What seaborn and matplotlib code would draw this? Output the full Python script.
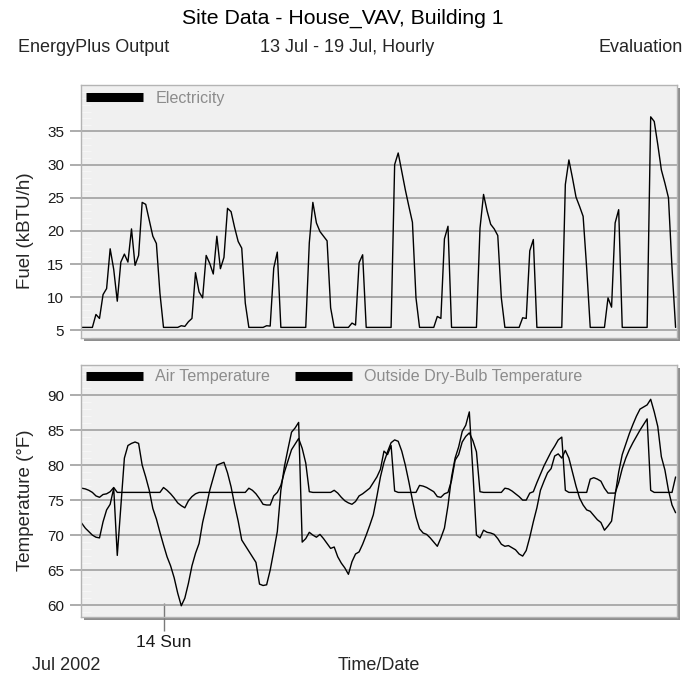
import numpy as np
import pandas as pd
import matplotlib
matplotlib.use("Agg")
import matplotlib.pyplot as plt
from matplotlib.lines import Line2D
from matplotlib.patches import Rectangle
from matplotlib.ticker import MultipleLocator, FixedLocator
import seaborn as sns

# ---- hourly data, 13 Jul 01:00 .. 19 Jul 24:00 (one row per day) ----
electricity = [
    5.45, 5.45, 5.45, 5.45, 7.4, 6.8, 10.4, 11.3, 17.3, 14.2, 9.4, 15.3, 16.5, 15.3, 20.3, 14.8, 16.3, 24.3, 24.0, 21.6, 19.2, 18.1, 10.6, 5.45,
    5.45, 5.45, 5.45, 5.45, 5.7, 5.6, 6.3, 6.8, 13.7, 10.8, 9.9, 16.3, 15.1, 13.5, 19.2, 14.3, 16.0, 23.4, 22.9, 20.5, 18.4, 17.4, 9.1, 5.45,
    5.45, 5.45, 5.45, 5.45, 5.7, 5.65, 14.4, 16.8, 5.45, 5.45, 5.45, 5.45, 5.45, 5.45, 5.45, 5.45, 18.2, 24.3, 21.2, 19.9, 19.2, 18.5, 8.4, 5.45,
    5.45, 5.45, 5.45, 5.45, 6.1, 5.8, 15.2, 16.4, 5.45, 5.45, 5.45, 5.45, 5.45, 5.45, 5.45, 5.45, 30.0, 31.75, 29.0, 26.2, 23.7, 21.3, 9.9, 5.45,
    5.45, 5.45, 5.45, 5.45, 7.1, 6.8, 18.8, 20.7, 5.45, 5.45, 5.45, 5.45, 5.45, 5.45, 5.45, 5.45, 20.4, 25.5, 23.0, 21.0, 20.3, 19.3, 9.9, 5.45,
    5.45, 5.45, 5.45, 5.45, 6.9, 6.8, 17.0, 18.7, 5.45, 5.45, 5.45, 5.45, 5.45, 5.45, 5.45, 5.45, 27.0, 30.7, 28.0, 25.1, 23.7, 22.2, 14.4, 5.45,
    5.45, 5.45, 5.45, 5.45, 9.9, 8.5, 21.2, 23.2, 5.45, 5.45, 5.45, 5.45, 5.45, 5.45, 5.45, 5.45, 37.2, 36.5, 33.0, 29.2, 27.2, 25.0, 14.4, 5.45,
]

air_temperature = [
    76.7, 76.6, 76.4, 76.1, 75.6, 75.4, 75.8, 75.9, 76.2, 76.8, 76.1, 76.1, 76.1, 76.1, 76.1, 76.1, 76.1, 76.1, 76.1, 76.1, 76.1, 76.1, 76.1, 76.8,
    76.4, 75.9, 75.3, 74.6, 74.2, 73.9, 74.9, 75.5, 75.9, 76.1, 76.1, 76.1, 76.1, 76.1, 76.1, 76.1, 76.1, 76.1, 76.1, 76.1, 76.1, 76.1, 76.1, 76.7,
    76.4, 75.9, 75.2, 74.4, 74.3, 74.3, 75.6, 76.1, 77.1, 79.0, 80.6, 82.2, 83.0, 83.8, 82.4, 80.3, 76.2, 76.1, 76.1, 76.1, 76.1, 76.1, 76.1, 76.4,
    76.0, 75.4, 74.9, 74.6, 74.4, 74.8, 75.6, 75.9, 76.3, 76.7, 77.5, 78.3, 79.4, 82.0, 81.5, 82.8, 76.3, 76.1, 76.1, 76.1, 76.1, 76.1, 76.1, 77.1,
    77.0, 76.8, 76.5, 76.2, 75.5, 75.4, 75.9, 76.1, 77.8, 80.7, 81.5, 83.3, 84.1, 84.6, 83.5, 81.9, 76.2, 76.1, 76.1, 76.1, 76.1, 76.1, 76.1, 76.7,
    76.6, 76.3, 75.9, 75.5, 75.0, 75.0, 76.0, 76.2, 77.5, 78.7, 79.9, 80.9, 81.9, 82.7, 83.6, 84.0, 76.4, 76.1, 76.1, 76.1, 76.1, 76.1, 76.1, 78.0,
    78.2, 78.0, 77.7, 76.7, 76.0, 76.0, 76.0, 77.5, 79.5, 81.0, 82.2, 83.2, 84.1, 85.0, 85.8, 86.6, 76.4, 76.1, 76.1, 76.1, 76.1, 76.1, 76.1, 78.3,
]

outside_drybulb = [
    71.7, 71.0, 70.5, 70.0, 69.7, 69.6, 71.9, 73.6, 74.4, 76.7, 67.1, 74.0, 81.0, 82.8, 83.1, 83.3, 83.1, 80.0, 78.3, 76.4, 73.8, 72.3, 70.4, 68.6,
    66.9, 65.6, 63.9, 61.7, 59.9, 61.0, 63.1, 65.6, 67.4, 68.8, 71.8, 74.0, 76.4, 78.2, 80.0, 80.2, 80.4, 78.9, 76.9, 74.3, 72.0, 69.3, 68.5, 67.7,
    66.9, 66.1, 63.0, 62.8, 62.9, 65.0, 67.7, 70.5, 76.4, 79.8, 82.3, 84.7, 85.3, 86.1, 69.0, 69.5, 70.4, 70.0, 69.7, 70.1, 69.5, 68.8, 68.1, 68.3,
    66.9, 66.0, 65.3, 64.4, 66.2, 67.3, 67.6, 68.7, 70.0, 71.4, 72.9, 75.5, 78.3, 80.4, 81.9, 83.2, 83.6, 83.4, 82.0, 80.0, 77.6, 75.0, 72.6, 70.9,
    70.3, 70.1, 69.6, 69.0, 68.4, 69.6, 71.0, 74.2, 78.3, 81.0, 82.6, 84.8, 85.7, 87.6, 79.0, 70.0, 69.6, 70.7, 70.4, 70.3, 70.1, 69.5, 68.7, 68.4,
    68.5, 68.2, 67.9, 67.3, 67.0, 67.8, 69.7, 71.9, 73.9, 76.4, 77.7, 78.9, 79.5, 81.3, 81.6, 81.0, 82.1, 81.0, 79.0, 77.0, 75.3, 74.3, 73.6, 73.4,
    72.8, 72.2, 71.8, 70.7, 71.3, 72.0, 75.7, 79.0, 81.5, 83.0, 84.5, 85.8, 87.0, 88.0, 88.3, 88.6, 89.4, 87.6, 85.5, 81.2, 79.3, 76.4, 74.3, 73.2,
]

fuel_ticks = [5, 10, 15, 20, 25, 30, 35]
temp_ticks = [60, 65, 70, 75, 80, 85, 90]
day_tick_hours = [24]
day_tick_labels = ["14 Sun"]

hours = np.arange(1, len(electricity) + 1)
fuel_df = pd.DataFrame({"hour": hours, "Electricity": electricity})
temp_df = pd.DataFrame({
    "hour": hours,
    "Air Temperature": air_temperature,
    "Outside Dry-Bulb Temperature": outside_drybulb,
}).melt(id_vars="hour", var_name="series", value_name="temp")

sns.set_style("white")
plt.rcParams["font.family"] = ["Liberation Sans", "DejaVu Sans"]

W, H = 685, 673
fig = plt.figure(figsize=(W / 100, H / 100), dpi=100)

PANEL_BG = "#f0f0f0"
GRID = "#a6a6a6"
EDGE = "#b4b4b4"
SHADOW = "#8e8e8e"
LEGEND_TXT = "#8c8c8c"


def panel(x0, y0, x1, y1):
    """Axes placed by pixel box, with a drop shadow behind it."""
    shadow = Rectangle(((x0 + 3) / W, 1 - (y1 + 3) / H), (x1 - x0) / W, (y1 - y0) / H,
                       transform=fig.transFigure, facecolor=SHADOW, edgecolor="none", zorder=-5)
    fig.add_artist(shadow)
    ax = fig.add_axes([x0 / W, 1 - y1 / H, (x1 - x0) / W, (y1 - y0) / H])
    ax.set_facecolor(PANEL_BG)
    for s in ax.spines.values():
        s.set_color(EDGE)
        s.set_linewidth(1.0)
    ax.set_axisbelow(True)
    ax.grid(axis="y", color=GRID, linewidth=1.3)
    ax.grid(axis="x", visible=False)
    ax.yaxis.set_minor_locator(MultipleLocator(1))
    ax.tick_params(axis="y", which="major", left=True, direction="out", length=8, width=1.3,
                   color=GRID, pad=4, labelsize=11, labelcolor="#1a1a1a")
    ax.tick_params(axis="y", which="minor", left=True, direction="in", length=7, width=0.8,
                   color="#f6f6f6")
    ax.set_xlim(0.8, 168.4)
    return ax


ax1 = panel(81, 85, 677, 338)
ax2 = panel(81, 365, 677, 617)

# --- fuel panel ---
sns.lineplot(data=fuel_df, x="hour", y="Electricity", ax=ax1, color="black",
             linewidth=1.0, legend=False)
ax1.set_ylim(3.85, 42.0)
ax1.yaxis.set_major_locator(FixedLocator(fuel_ticks))
ax1.set_yticklabels([str(t) for t in fuel_ticks])
ax1.set_xticks([])
ax1.set_xlabel("")
ax1.set_ylabel("")

# --- temperature panel ---
sns.lineplot(data=temp_df, x="hour", y="temp", hue="series",
             palette=["black", "black"], ax=ax2, linewidth=1.0, legend=False)
ax2.set_ylim(58.3, 94.3)
ax2.yaxis.set_major_locator(FixedLocator(temp_ticks))
ax2.set_yticklabels([str(t) for t in temp_ticks])
ax2.set_xticks(day_tick_hours)
ax2.set_xticklabels(day_tick_labels)
ax2.tick_params(axis="x", which="major", bottom=True, direction="inout", length=20, width=1.0,
                color="#7a7a7a", pad=3, labelsize=12.5, labelcolor="#1a1a1a")
ax2.set_xlabel("")
ax2.set_ylabel("")


def bar_handle():
    return Line2D([], [], color="black", linewidth=6.5, solid_capstyle="butt")


leg_kw = dict(frameon=False, loc="center left", borderpad=0, borderaxespad=0,
              handletextpad=0.75, fontsize=11.6, labelcolor=LEGEND_TXT)
ax1.legend([bar_handle()], ["Electricity"], handlelength=3.55,
           bbox_to_anchor=(5 / 596, 1 - 13 / 253), **leg_kw)
ax2.legend([bar_handle(), bar_handle()], ["Air Temperature", "Outside Dry-Bulb Temperature"],
           ncol=2, columnspacing=1.55, handlelength=3.55,
           bbox_to_anchor=(5 / 596, 1 - 12 / 252), **leg_kw)

# --- titles and labels ---
fig.text(0.5, 1 - 18 / H, "Site Data - House_VAV, Building 1", ha="center", va="center",
         fontsize=15.3, color="black")
fig.text(18 / W, 1 - 47 / H, "EnergyPlus Output", ha="left", va="center", fontsize=13)
fig.text(347 / W, 1 - 47 / H, "13 Jul - 19 Jul, Hourly", ha="center", va="center", fontsize=13)
fig.text(683 / W, 1 - 47 / H, "Evaluation", ha="right", va="center", fontsize=13)

fig.text(26 / W, 1 - 231 / H, "Fuel (kBTU/h)", rotation=90, ha="center", va="center", fontsize=13.5)
fig.text(26 / W, 1 - 500 / H, "Temperature (°F)", rotation=90, ha="center", va="center", fontsize=13.5)
fig.text(66 / W, 1 - 665 / H, "Jul 2002", ha="center", va="center", fontsize=13)
fig.text(379 / W, 1 - 665 / H, "Time/Date", ha="center", va="center", fontsize=13)

fig.savefig("out.png", dpi=100, facecolor="white")
